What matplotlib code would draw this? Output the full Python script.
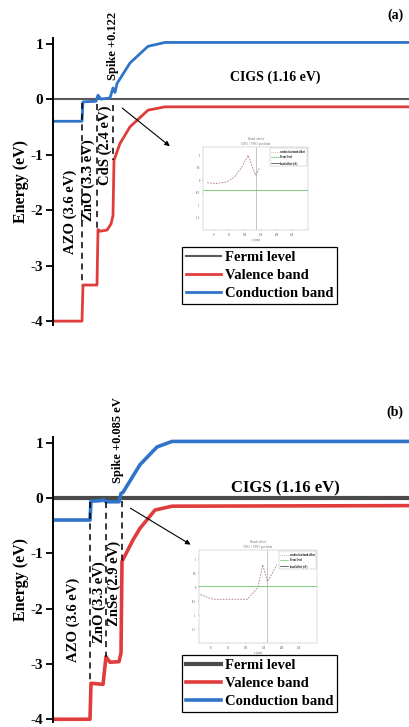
import matplotlib
matplotlib.use("Agg")
import matplotlib.pyplot as plt

plt.rcParams['font.family'] = ['Liberation Serif', 'DejaVu Serif']
plt.rcParams['font.weight'] = 'bold'
plt.rcParams['axes.labelweight'] = 'bold'
plt.rcParams['axes.unicode_minus'] = False

# ---- panel (a) : AZO / ZnO / CdS / CIGS ----
cb_a_x = [0, 29, 30, 43, 44, 45, 48, 57, 60, 62, 64, 77, 95, 112, 356]
cb_a_y = [-0.4, -0.4, -0.05, -0.04, 0.02, 0.07, 0.0, 0.02, 0.2, 0.12, 0.28, 0.65, 0.95, 1.02, 1.02]
vb_a_x = [0, 29, 30, 44, 45, 47, 54, 58, 60, 61, 67, 77, 95, 112, 356]
vb_a_y = [-4.0, -4.0, -3.35, -3.35, -2.35, -2.38, -2.36, -2.25, -2.1, -1.1, -0.8, -0.5, -0.2, -0.14, -0.14]
dash_a_x = [29, 44, 60]
dash_a_top = [-0.07, -0.08, -0.1]
dash_a_bot = [-3.35, -2.35, -1.1]
lab_a = ["AZO (3.6 eV)", "ZnO (3.3 eV)", "CdS (2.4 eV)"]
lab_a_x = [17, 35, 52]
lab_a_y = [-2.04, -1.46, -0.83]
spike_a = "Spike +0.122"

# ---- panel (b) : AZO / ZnO / ZnSe / CIGS ----
cb_b_x = [0, 37, 38, 48, 50, 53, 66, 68, 70, 87, 104, 119, 356]
cb_b_y = [-0.4, -0.4, -0.06, -0.05, -0.03, -0.07, -0.07, 0.08, 0.1, 0.6, 0.92, 1.02, 1.02]
vb_b_x = [0, 37, 38, 50, 53, 57, 66, 68, 69, 80, 87, 102, 119, 356]
vb_b_y = [-4.0, -4.0, -3.35, -3.37, -2.87, -2.97, -2.96, -2.8, -1.15, -0.76, -0.55, -0.22, -0.15, -0.14]
dash_b_x = [37, 53, 69]
dash_b_top = [-0.08, -0.08, -0.05]
dash_b_bot = [-3.35, -2.87, -1.15]
lab_b = ["AZO (3.6 eV)", "ZnO (3.3 eV)", "ZnSe (2.9 eV)"]
lab_b_x = [20, 46, 61]
lab_b_y = [-2.2, -1.89, -1.55]
spike_b = "Spike +0.085 eV"

# ---- little inset plots (screenshots of band offset) ----
ins_a_x = [0.04, 0.12, 0.23, 0.30, 0.36, 0.43, 0.50, 0.54]
ins_a_y = [0.57, 0.56, 0.58, 0.64, 0.74, 0.90, 0.66, 0.75]
ins_b_x = [0.01, 0.12, 0.30, 0.41, 0.50, 0.54, 0.58, 0.66]
ins_b_y = [0.52, 0.47, 0.47, 0.47, 0.60, 0.84, 0.66, 0.84]

W, H = 409, 727
fig = plt.figure(figsize=(W / 100, H / 100), dpi=100)

red = '#e03c3c'
blue = '#2f74c8'


def px_box(x0, y0, x1, y1):
    return [x0 / W, 1 - y1 / H, (x1 - x0) / W, (y1 - y0) / H]


def panel(box, ylim, cbx, cby, vbx, vby, dx, dtop, dbot, labs, lx, ly,
          spike, spike_xy, fermi_lw, fermi_c, band_lw, cigs_xy, cigs_fs,
          tag, tag_y, arrow, leg_top, inset_box, ix, iy, ivert, igreen):
    ax = fig.add_axes(px_box(*box))
    ax.axhline(0, color=fermi_c, lw=fermi_lw, label='Fermi level')
    ax.plot(vbx, vby, color=red, lw=band_lw, label='Valence band')
    ax.plot(cbx, cby, color=blue, lw=band_lw, label='Conduction band')
    for x, t, b in zip(dx, dtop, dbot):
        ax.plot([x, x], [t, b], color='black', lw=1.1, ls=(0, (4, 3)))
    for t, x, y in zip(labs, lx, ly):
        ax.text(x, y, t, rotation=90, ha='center', va='center', fontsize=10.5)
    ax.text(spike_xy[0], spike_xy[1], spike, rotation=90, ha='center',
            va='center', fontsize=9)
    ax.text(cigs_xy[0], cigs_xy[1], "CIGS (1.16 eV)", ha='center',
            va='center', fontsize=cigs_fs)
    ax.annotate("", xy=arrow[1], xytext=arrow[0],
                arrowprops=dict(arrowstyle='-|>', color='black', lw=0.8,
                                mutation_scale=7))
    ax.set_xlim(0, 356)
    ax.set_ylim(*ylim)
    ax.set_yticks([-4, -3, -2, -1, 0, 1])
    ax.tick_params(axis='y', labelsize=11, width=1.3, length=5, pad=2)
    for s in ['top', 'right', 'bottom']:
        ax.spines[s].set_visible(False)
    ax.spines['left'].set_linewidth(1.4)
    ax.set_xticks([])
    ax.set_ylabel("Energy (eV)", fontsize=11.5, labelpad=1)
    fig.text(395 / W, 1 - tag_y / H, tag, ha='center', va='center', fontsize=10)
    leg = ax.legend(loc='upper left', bbox_to_anchor=(182 / W, 1 - leg_top / H),
                    bbox_transform=fig.transFigure, fontsize=10.5,
                    frameon=True, fancybox=False, framealpha=1,
                    edgecolor='black', borderaxespad=0, borderpad=0.25,
                    handlelength=2.4, handletextpad=0.3, labelspacing=0.35)
    leg.get_frame().set_linewidth(0.9)

    ins = fig.add_axes(px_box(*inset_box))
    ins.plot(ix, iy, color='#b07878', lw=0.6, ls=(0, (2, 1.5)))
    ins.axhline(igreen, color='#6cc46c', lw=0.6)
    ins.axvline(ivert, color='#999999', lw=0.4)
    ins.set_xlim(0, 1)
    ins.set_ylim(0, 1)
    ins.set_xticks([0.1, 0.25, 0.4, 0.55, 0.7, 0.85])
    ins.set_yticks([0.15, 0.3, 0.45, 0.6, 0.75, 0.9])
    ins.set_xticklabels(['0', '50', '100', '150', '200', '250'])
    ins.set_yticklabels(['-1.5', '-1', '-0.5', '0', '0.5', '1'])
    ins.tick_params(labelsize=2, length=1, width=0.3, pad=1, colors='#888888')
    for s in ins.spines.values():
        s.set_linewidth(0.3)
        s.set_color('#aaaaaa')
    ins.set_title("Band offset\nCBO / VBO position", fontsize=2.5,
                  color='#777777', pad=1.5, fontweight='normal')
    ins.set_xlabel("x (nm)", fontsize=2, color='#888888', labelpad=1)
    ins.plot([], [], color='#b07878', lw=0.5, ls=':', label='conduction band offset')
    ins.plot([], [], color='#6cc46c', lw=0.5, label='Fermi level')
    ins.plot([], [], color='#333333', lw=0.5, label='band offset (eV)')
    il = ins.legend(loc='upper right', fontsize=1.8, frameon=True,
                    fancybox=False, edgecolor='#999999', handlelength=3,
                    borderpad=0.6, labelspacing=0.6)
    il.get_frame().set_linewidth(0.3)
    return ax


panel((53, 38, 409, 325), (-4.07, 1.1), cb_a_x, cb_a_y, vb_a_x, vb_a_y,
      dash_a_x, dash_a_top, dash_a_bot, lab_a, lab_a_x, lab_a_y,
      spike_a, (60, 0.95), 1.5, '#5a5a5a', 2.0, (222, 0.4), 10, "(a)", 15,
      ((67, -0.13), (119, -0.88)), 247, (203, 147, 308, 230),
      ins_a_x, ins_a_y, 0.5, 0.48)

panel((53, 437, 409, 722), (-4.05, 1.1), cb_b_x, cb_b_y, vb_b_x, vb_b_y,
      dash_b_x, dash_b_top, dash_b_bot, lab_b, lab_b_x, lab_b_y,
      spike_b, (65, 1.05), 3.0, '#4a4a4a', 2.6, (232, 0.18), 12, "(b)", 412,
      ((75, -0.16), (140, -0.87)), 655, (199, 550, 317, 643),
      ins_b_x, ins_b_y, 0.58, 0.61)

fig.savefig("out.png", dpi=100)
